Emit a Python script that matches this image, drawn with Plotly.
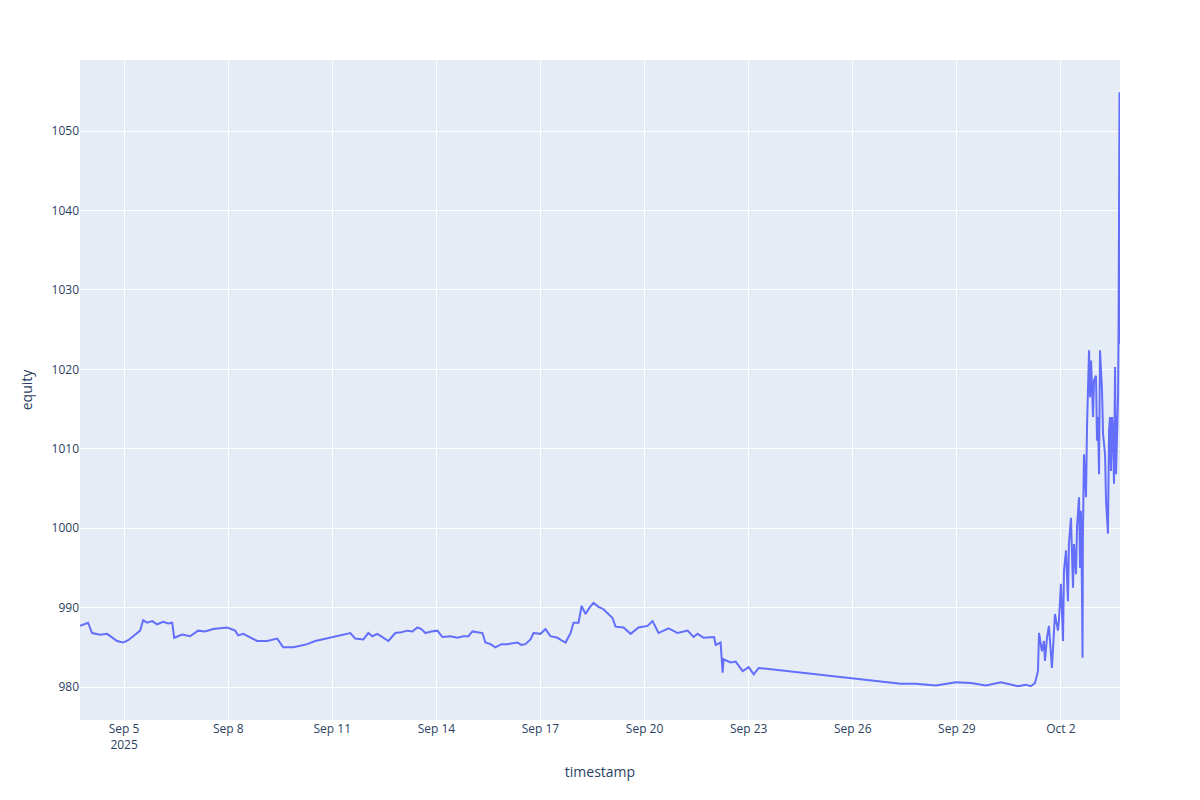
import plotly.graph_objects as go

# equity curve, values
timestamp = [
    "2025-09-03 17:30", "2025-09-03 20:20", "2025-09-03 23:05", "2025-09-04 01:50",
    "2025-09-04 07:25", "2025-09-04 12:15", "2025-09-04 15:40", "2025-09-04 19:10",
    "2025-09-04 23:20", "2025-09-05 02:50", "2025-09-05 06:15", "2025-09-05 11:05",
    "2025-09-05 13:10", "2025-09-05 15:55", "2025-09-05 19:25", "2025-09-05 22:50",
    "2025-09-06 03:00", "2025-09-06 06:30", "2025-09-06 09:15", "2025-09-06 10:40",
    "2025-09-06 16:10", "2025-09-06 21:40", "2025-09-07 03:10", "2025-09-07 08:05",
    "2025-09-07 13:35", "2025-09-07 18:30", "2025-09-07 23:20", "2025-09-08 04:50",
    "2025-09-08 06:55", "2025-09-08 10:25", "2025-09-08 15:15", "2025-09-08 20:05",
    "2025-09-09 03:00", "2025-09-09 09:55", "2025-09-09 14:05", "2025-09-09 21:00",
    "2025-09-10 01:50", "2025-09-10 06:40", "2025-09-10 12:15",
    "2025-09-11 12:30", "2025-09-11 15:55", "2025-09-11 21:30", "2025-09-12 00:55",
    "2025-09-12 03:40", "2025-09-12 07:10", "2025-09-12 11:20", "2025-09-12 14:50",
    "2025-09-12 19:35", "2025-09-12 23:45", "2025-09-13 03:55", "2025-09-13 07:25",
    "2025-09-13 10:50", "2025-09-13 13:35", "2025-09-13 16:25", "2025-09-13 20:30",
    "2025-09-14 00:40", "2025-09-14 04:10", "2025-09-14 09:40", "2025-09-14 14:30",
    "2025-09-14 18:40", "2025-09-14 22:10", "2025-09-15 00:55", "2025-09-15 05:05",
    "2025-09-15 07:50", "2025-09-15 09:55", "2025-09-15 13:25", "2025-09-15 16:50",
    "2025-09-15 21:00", "2025-09-16 01:10", "2025-09-16 05:20", "2025-09-16 08:05",
    "2025-09-16 10:50", "2025-09-16 13:35", "2025-09-16 17:05", "2025-09-16 19:10",
    "2025-09-17 00:00", "2025-09-17 03:30", "2025-09-17 06:55", "2025-09-17 11:50",
    "2025-09-17 15:15", "2025-09-17 17:20", "2025-09-17 20:50", "2025-09-17 22:50",
    "2025-09-18 02:20", "2025-09-18 04:25", "2025-09-18 07:10", "2025-09-18 09:55",
    "2025-09-18 12:40", "2025-09-18 16:10", "2025-09-18 19:35", "2025-09-18 23:05",
    "2025-09-19 01:50", "2025-09-19 03:55", "2025-09-19 09:30", "2025-09-19 14:20",
    "2025-09-19 19:50", "2025-09-20 02:05", "2025-09-20 05:30", "2025-09-20 09:40",
    "2025-09-20 13:10", "2025-09-20 16:35", "2025-09-20 22:50", "2025-09-21 05:45",
    "2025-09-21 09:55", "2025-09-21 12:40", "2025-09-21 16:50", "2025-09-22 00:05",
    "2025-09-22 01:10", "2025-09-22 04:35", "2025-09-22 06:00", "2025-09-22 06:40",
    "2025-09-22 11:30", "2025-09-22 15:00", "2025-09-22 19:50", "2025-09-23 00:00",
    "2025-09-23 03:30", "2025-09-23 06:55",
    "2025-09-27 09:15", "2025-09-27 19:35", "2025-09-28 09:30", "2025-09-28 23:20",
    "2025-09-29 09:40", "2025-09-29 20:05", "2025-09-30 06:30", "2025-09-30 18:15",
    "2025-09-30 23:45", "2025-10-01 03:10", "2025-10-01 06:00", "2025-10-01 08:05",
    "2025-10-01 08:50", "2025-10-01 10:50", "2025-10-01 12:15", "2025-10-01 12:55",
    "2025-10-01 14:20", "2025-10-01 15:40", "2025-10-01 17:45", "2025-10-01 19:10",
    "2025-10-01 19:50", "2025-10-01 21:55", "2025-10-01 22:35", "2025-10-02 00:00",
    "2025-10-02 01:25", "2025-10-02 02:05", "2025-10-02 03:30", "2025-10-02 04:50",
    "2025-10-02 05:30", "2025-10-02 06:55", "2025-10-02 08:20", "2025-10-02 09:00",
    "2025-10-02 10:25", "2025-10-02 11:05", "2025-10-02 11:45", "2025-10-02 12:30",
    "2025-10-02 13:10", "2025-10-02 13:50", "2025-10-02 14:30", "2025-10-02 14:55",
    "2025-10-02 15:10", "2025-10-02 15:55", "2025-10-02 17:20", "2025-10-02 18:00",
    "2025-10-02 19:25", "2025-10-02 20:05", "2025-10-02 20:50", "2025-10-02 22:10",
    "2025-10-02 22:50", "2025-10-03 00:15", "2025-10-03 00:55", "2025-10-03 01:35",
    "2025-10-03 02:20", "2025-10-03 03:00", "2025-10-03 04:25", "2025-10-03 05:05",
    "2025-10-03 06:30", "2025-10-03 07:10", "2025-10-03 08:30", "2025-10-03 09:15",
    "2025-10-03 09:55", "2025-10-03 10:35", "2025-10-03 11:20", "2025-10-03 12:00",
    "2025-10-03 12:40", "2025-10-03 13:25", "2025-10-03 14:05", "2025-10-03 15:30",
    "2025-10-03 15:50", "2025-10-03 16:10", "2025-10-03 16:30", "2025-10-03 16:50",
]

equity = [
    987.7, 987.9, 988.1, 986.8,
    986.6, 986.7, 986.3, 985.8,
    985.6, 985.9, 986.4, 987.1,
    988.4, 988.1, 988.3, 987.9,
    988.2, 988.0, 988.1, 986.2,
    986.6, 986.4, 987.1, 987.0,
    987.3, 987.4, 987.5, 987.1,
    986.5, 986.7, 986.2, 985.8,
    985.8, 986.1, 985.0, 985.0,
    985.2, 985.4, 985.8,
    986.8, 986.1, 986.0, 986.8,
    986.4, 986.7, 986.2, 985.8,
    986.8, 986.9, 987.1, 987.0,
    987.5, 987.3, 986.8, 987.0,
    987.1, 986.3, 986.4, 986.2,
    986.4, 986.4, 987.0, 986.9,
    986.8, 985.6, 985.4, 985.0,
    985.4, 985.4, 985.5, 985.6,
    985.3, 985.4, 986.0, 986.8,
    986.7, 987.3, 986.4, 986.2,
    985.8, 985.6, 986.8, 988.1,
    988.1, 990.2, 989.2, 990.0,
    990.6, 990.1, 989.8, 989.2,
    988.7, 987.6, 987.5, 986.7,
    987.5, 987.7, 988.3, 986.8,
    987.1, 987.4, 986.8, 987.1,
    986.3, 986.7, 986.2, 986.3,
    985.3, 985.6, 981.8, 983.5,
    983.1, 983.2, 982.0, 982.5,
    981.6, 982.4,
    980.4, 980.4, 980.2, 980.6,
    980.5, 980.2, 980.6, 980.1,
    980.3, 980.1, 980.5, 982.0,
    986.8, 984.5, 985.8, 983.3,
    986.2, 987.7, 982.4, 986.6,
    989.2, 987.1, 988.3, 993.0,
    985.8, 994.6, 997.2, 990.8,
    998.0, 1001.3, 992.5, 998.0,
    994.2, 1000.1, 1001.8, 1003.9,
    995.0, 1002.2, 992.5, 983.7,
    998.8, 1009.3, 1003.9, 1012.7,
    1022.4, 1016.5, 1021.1, 1014.0,
    1018.6, 1019.2, 1011.0, 1014.0,
    1006.8, 1022.4, 1017.3, 1011.9,
    1009.3, 1003.5, 999.3, 1012.3,
    1014.0, 1007.2, 1014.0, 1012.3,
    1005.6, 1020.3, 1006.8, 1016.5,
    1024.9, 1047.0, 1054.9, 1023.2,
]

fig = go.Figure()
fig.add_trace(go.Scatter(x=timestamp, y=equity, mode='lines',
                         line=dict(color='#636efa', width=2)))

# page body has an 8px margin, so shrink the figure to land the plot area where the reference has it
fig.update_layout(width=1184, height=784,
                  margin=dict(l=72, r=72, t=52, b=72),
                  xaxis_title='timestamp',
                  yaxis_title='equity',
                  yaxis=dict(range=[975.85, 1058.95]),
                  showlegend=False)

fig.write_html("out.html")
